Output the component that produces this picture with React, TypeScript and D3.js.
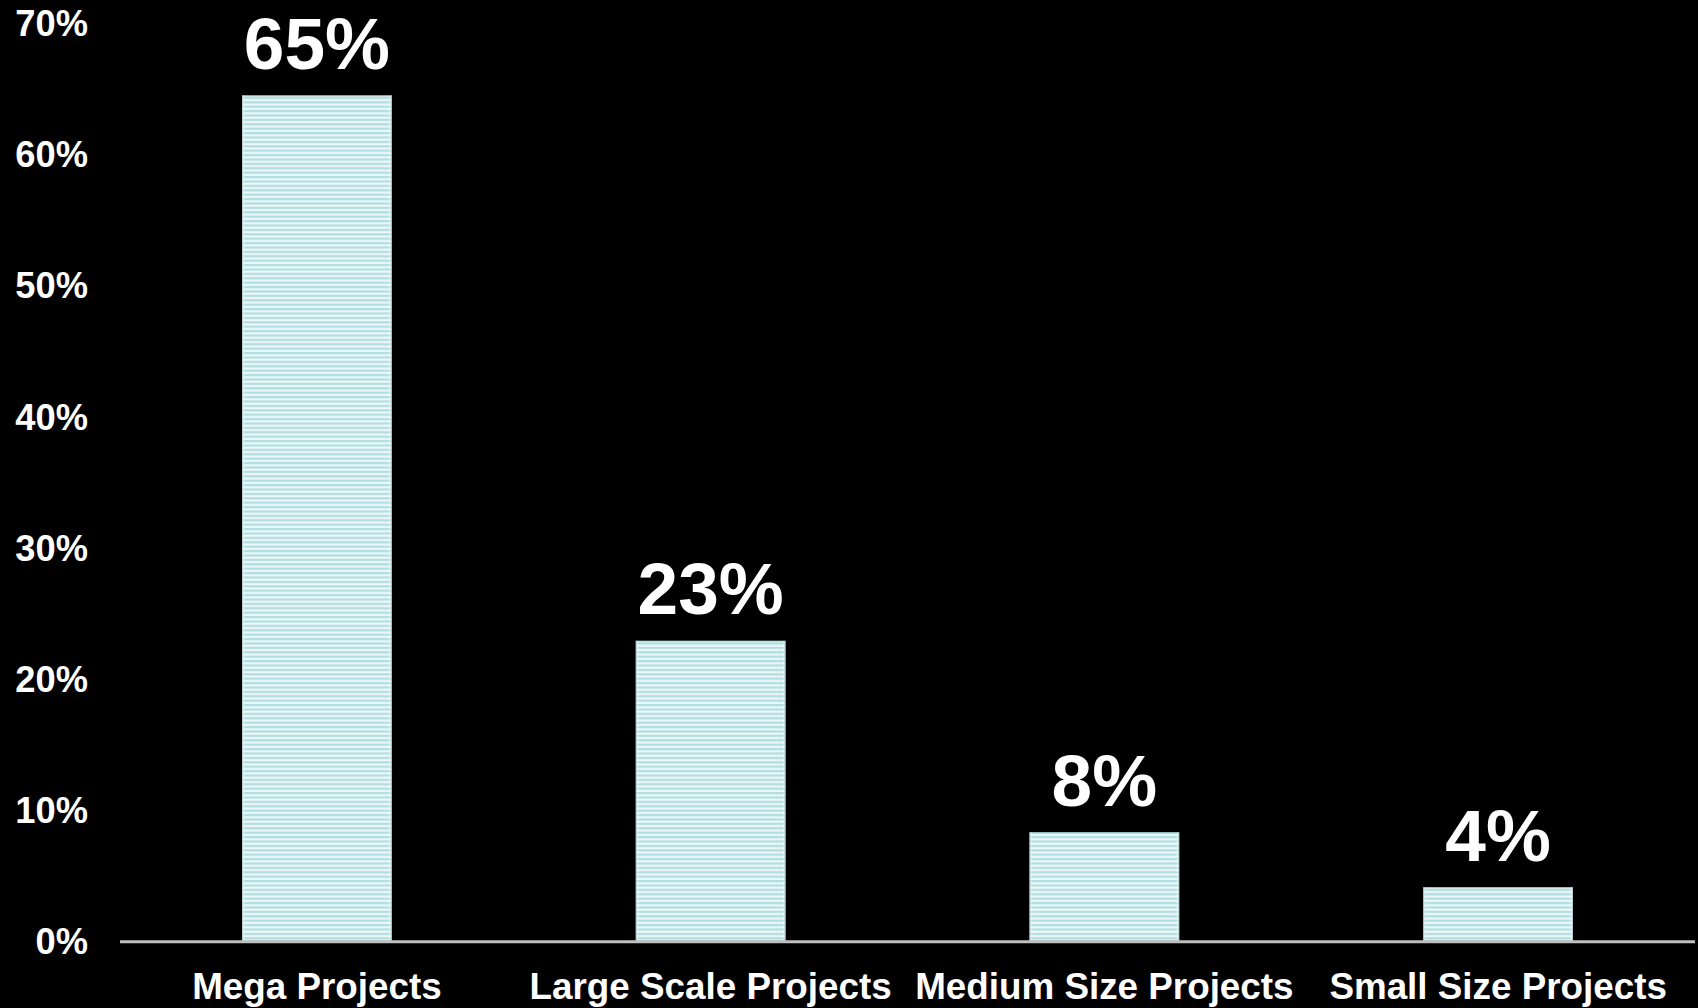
import React, { useEffect } from "react";
import * as d3 from "d3";

const categories = ["Mega Projects", "Large Scale Projects", "Medium Size Projects", "Small Size Projects"];
const values = [64.5, 22.9, 8.3, 4.1];
const yTicks = [0, 10, 20, 30, 40, 50, 60, 70];

const W = 1698;
const H = 1008;
const FONT = "'Liberation Sans', Arial, Helvetica, sans-serif";

export default function App() {
  useEffect(() => {
    document.body.style.margin = "0";
    document.body.style.background = "#000";
  }, []);

  const x = d3
    .scaleBand<string>()
    .domain(categories)
    .range([120, 1695])
    .paddingInner(0.62)
    .paddingOuter(0.31);
  const y = d3.scaleLinear().domain([0, 70]).range([941, 23.3]);

  return (
    <svg width={W} height={H} style={{ display: "block", background: "#000" }}>
      <defs>
        <pattern id="stripes" patternUnits="userSpaceOnUse" width="10" height="4.4">
          <rect x="0" y="0" width="10" height="4.4" fill="#ebf7f8" />
          <rect x="0" y="0" width="10" height="2.2" fill="#b2dee1" />
        </pattern>
        <linearGradient id="edgefade" x1="0" x2="1" y1="0" y2="0">
          <stop offset="0" stopColor="#fff" stopOpacity="0.55" />
          <stop offset="0.025" stopColor="#fff" stopOpacity="0" />
          <stop offset="0.975" stopColor="#fff" stopOpacity="0" />
          <stop offset="1" stopColor="#fff" stopOpacity="0.55" />
        </linearGradient>
      </defs>
      <rect x={0} y={0} width={W} height={H} fill="#000" />

      {yTicks.map((t) => (
        <text
          key={t}
          x={88}
          y={y(t)}
          dy="0.358em"
          textAnchor="end"
          fill="#fff"
          fontFamily={FONT}
          fontWeight="bold"
          fontSize={36.3}
        >
          {t + "%"}
        </text>
      ))}

      {categories.map((c, i) => {
        const bx = x(c) as number;
        const bw = x.bandwidth();
        const top = y(values[i]);
        const h = y(0) - top;
        return (
          <g key={c}>
            <rect x={bx} y={top} width={bw} height={h} fill="url(#stripes)" />
            <rect x={bx} y={top} width={bw} height={h} fill="url(#edgefade)" />
            <rect
              x={bx + 0.5}
              y={top + 0.5}
              width={bw - 1}
              height={h - 1}
              fill="none"
              stroke="#8fb9bd"
              strokeWidth={1}
              strokeOpacity={0.6}
            />
            <text
              x={bx + bw / 2}
              y={top - 26.5}
              textAnchor="middle"
              fill="#fff"
              fontFamily={FONT}
              fontWeight="bold"
              fontSize={73}
            >
              {Math.round(values[i]) + "%"}
            </text>
            <text
              x={bx + bw / 2}
              y={998.5}
              textAnchor="middle"
              fill="#fff"
              fontFamily={FONT}
              fontWeight="bold"
              fontSize={36.8}
            >
              {c}
            </text>
          </g>
        );
      })}

      <line x1={120} x2={1695} y1={941.7} y2={941.7} stroke="#bfbfbf" strokeWidth={3} />
    </svg>
  );
}
